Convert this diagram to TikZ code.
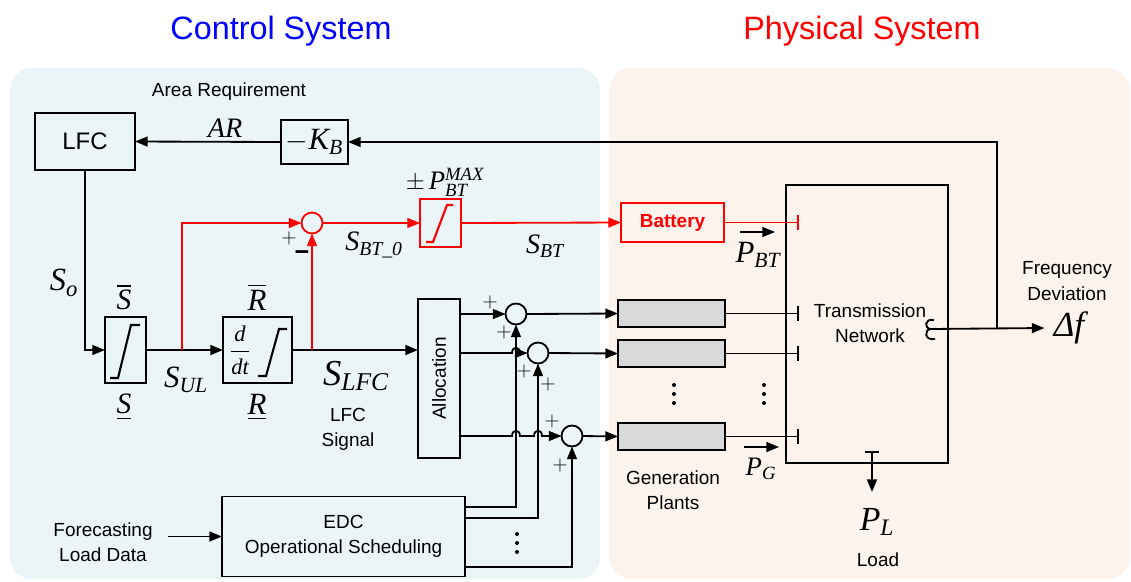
\documentclass[tikz,border=0pt]{standalone}
\usepackage{amsmath}
\usepackage{fontspec}
\setmainfont{Liberation Sans}
\newfontfamily\tms{Liberation Serif}
\usetikzlibrary{arrows.meta,calc,positioning}
\definecolor{ctrlbg}{RGB}{235,245,248}
\definecolor{physbg}{RGB}{253,243,237}
\newcommand{\txt}{\fontsize{13.5}{18}\selectfont}
\newcommand{\lbl}[1]{\fontsize{#1}{#1}\selectfont}
\newcommand{\tv}[1]{\text{\tms\itshape #1}}

\begin{document}
\begin{tikzpicture}[x=0.025cm, y=-0.025cm, line width=1.3pt, >={Triangle[length=9pt,width=7pt]},
		box/.style={draw, inner sep=0pt, outer sep=0pt},
		sumnode/.style={draw, circle, minimum size=0.525cm, inner sep=0pt, outer sep=0pt},
		gennode/.style={draw, fill=gray!30, minimum width=2.675cm, minimum height=0.675cm, inner sep=0pt, outer sep=0pt},
		tobar/.style={-{Bar[width=10pt]}}]
			\useasboundingbox (0,0) rectangle (1131,581);
			\fill[ctrlbg, rounded corners=0.55cm] (10,68) rectangle (600,579);
			\fill[physbg, rounded corners=0.55cm] (609,68) rectangle (1130,579);
			\node[text=blue, font=\lbl{23}] (ctitle) at (281,31) {Control System};
			\node[text=red, font=\lbl{23}] (ptitle) at (862,31) {Physical System};

			\node[box, minimum width=2.5cm, minimum height=1.425cm, font=\lbl{17}] (lfc) at (85,141.5) {LFC};
			\node[box, minimum width=1.675cm, minimum height=1.1cm, font=\lbl{22}] (kb) at (314.5,142) {$-\tv{K}_{\tv{B}}$};
			\node[box, minimum width=1.025cm, minimum height=1.65cm] (lim) at (125.5,350) {};
			\node[box, minimum width=1.725cm, minimum height=1.65cm] (rate) at (257.5,350) {};
			\node[font=\lbl{16}] (ddt) at (240,350) {$\displaystyle\frac{\tv{d}}{\tv{dt}}$};
			\node[sumnode, red] (sumbt) at (312,223) {};
			\node[box, red, minimum width=1.025cm, minimum height=1.2cm] (limbt) at (440.5,223) {};
			\node[box, red, text=red, minimum width=2.575cm, minimum height=0.975cm, font=\txt\bfseries] (bat) at (672.5,222.5) {Battery};
			\node[box, minimum width=4.05cm, minimum height=6.95cm] (net) at (867,324) {};
			\node[align=center, font=\txt] (netlbl) at (870,323.5) {Transmission\\Network};
			\node[box, minimum width=1.05cm, minimum height=3.975cm] (alloc) at (439,378.5) {};
			\node[rotate=90, font=\txt] (alloclbl) at (alloc) {Allocation};
			\node[sumnode] (sum1) at (516,314) {};
			\node[sumnode] (sum2) at (538,353) {};
			\node[sumnode] (sum3) at (572,436) {};
			\node[gennode] (gen1) at (671.5,313.5) {};
			\node[gennode] (gen2) at (671.5,353.5) {};
			\node[gennode] (gen3) at (671.5,436.5) {};
			\node[box, minimum width=6.075cm, minimum height=2cm, align=center, font=\txt] (edc) at (343.5,536.5) {EDC\\Operational Scheduling};

			\draw[line width=1.5pt] ([shift={(-15.5,28)}]lim.center) -- ++(8,0) -- ++(13,-53) -- ++(9,0);
			\draw[line width=1.5pt] ([shift={(0.5,26)}]rate.center) -- ++(8,0) -- ++(13,-47) -- ++(8,0);
			\draw[line width=1.5pt, red] ([shift={(-14.5,19)}]limbt.center) -- ++(7,0) -- ++(14,-37) -- ++(6,0);
			\foreach \dx/\dy in {674/394, 764/394, 517/543}
				\foreach \k in {-9,0,9}
					\fill (\dx,\dy+\k) circle (2);

			\coordinate (nx) at (799,0);
			\coordinate (br1) at (182,350);
			\coordinate (br2) at (312,350);
			\coordinate (fb) at (997,329);
			\coordinate (sq) at (931,329);
			\coordinate (ld) at (872,451);
			\coordinate (e1) at ($(edc.north east)+(0,10.5)$);
			\coordinate (e2) at ($(edc.north east)+(0,21.5)$);
			\coordinate (e3) at ($(edc.north east)+(0,70.5)$);

			\node[font=\txt] (areq) at (229,92) {Area Requirement};
			\node[font=\lbl{20}] (ar) at (225,128) {$\tv{AR}$};
			\node[font=\lbl{23}] (so) at (64,283) {$\tv{S}_{\tv{o}}$};
			\node[font=\lbl{21}] (sbar) at (124,297) {$\overline{\tv{S}}$};
			\node[font=\lbl{21}] (sund) at (124,407) {$\underline{\tv{S}}$};
			\node[font=\lbl{22}] (rbar) at (257,297) {$\overline{\tv{R}}$};
			\node[font=\lbl{22}] (rund) at (257,407) {$\underline{\tv{R}}$};
			\node[font=\lbl{22}] (sul) at (186,380) {$\tv{S}_{\tv{UL}}$};
			\node[font=\lbl{26}] (slfc) at (356,376) {$\tv{S}_{\tv{LFC}}$};
			\node[align=center, font=\txt] (lfcsig) at (348,429) {LFC\\Signal};
			\node[font=\lbl{20}] (sbt0) at (374,245) {$\tv{S}_{\tv{BT\_0}}$};
			\node[font=\lbl{20}] (sbt) at (545,246) {$\tv{S}_{\tv{BT}}$};
			\node[font=\lbl{19}] (pmax) at (445,182) {$\pm\,\tv{P}_{\tv{BT}}^{\tv{MAX}}$};
			\node[font=\lbl{22}] (pbt) at (758,255) {$\tv{P}_{\tv{BT}}$};
			\node[font=\lbl{19}] (pg) at (761,469) {$\tv{P}_{\tv{G}}$};
			\node[font=\lbl{24}] (pl) at (877,522) {$\tv{P}_{\tv{L}}$};
			\node[font=\txt] (load) at (878,560) {Load};
			\node[align=center, font=\txt] (gp) at (673,490) {Generation\\Plants};
			\node[align=center, font=\txt] (fd) at (1067,281) {Frequency\\Deviation};
			\node[font=\lbl{25}, inner sep=6pt] (df) at (1069,328) {\tms\itshape Δf};
			\node[align=center, font=\txt] (fc) at (103,542) {Forecasting\\Load Data};
			\node[font=\lbl{15}] (p0) at (289,238) {$+$};
			\node[font=\lbl{18}\bfseries] (m0) at (302,256) {−};
			\node[font=\lbl{15}] (p1a) at (490,302) {$+$};
			\node[font=\lbl{15}] (p1b) at (504,332) {$+$};
			\node[font=\lbl{15}] (p2a) at (524,371) {$+$};
			\node[font=\lbl{15}] (p2b) at (548,384) {$+$};
			\node[font=\lbl{15}] (p3a) at (552,421) {$+$};
			\node[font=\lbl{15}] (p3b) at (560,465) {$+$};

			\draw (934,320) .. controls (924,318) and (924,329) .. (sq) .. controls (924,329) and (924,341) .. (935,339);
			\draw[->] (sq) -- (df.west);
			\draw[->] (fb) |- (kb.east);
			\draw[->] (kb.west) -- (lfc.east);
			\draw[->] (lfc.south) |- (lim.west);
			\draw[->] (lim.east) -- (rate.west);
			\draw[->] (rate.east) -- (rate.east -| alloc.west);
			\draw[red, ->] (br1) |- (sumbt.west);
			\draw[red, ->] (br2) -- (sumbt.south);
			\draw[red, ->] (sumbt.east) -- (limbt.west);
			\draw[red, ->] (limbt.east) -- (bat.west);
			\draw[red, tobar] (bat.east) -- (bat.east -| nx);
			\draw[->] (alloc.east |- sum1.west) -- (sum1.west);
			\draw[->] (alloc.east |- sum2.west) -- ($(sum1.south |- sum2.west)+(-4,0)$) .. controls +(0,-7) and +(0,-7) .. ($(sum1.south |- sum2.west)+(4,0)$) -- (sum2.west);
			\draw[->] (alloc.east |- sum3.west) -- ($(sum1.south |- sum3.west)+(-4,0)$) .. controls +(0,-7) and +(0,-7) .. ($(sum1.south |- sum3.west)+(4,0)$) -- ($(sum2.south |- sum3.west)+(-4,0)$) .. controls +(0,-7) and +(0,-7) .. ($(sum2.south |- sum3.west)+(4,0)$) -- (sum3.west);
			\draw[->] (sum1.east) -- (gen1.west);
			\draw[->] (sum2.east) -- (gen2.west);
			\draw[->] (sum3.east) -- (gen3.west);
			\draw[tobar] (gen1.east) -- (gen1.east -| nx);
			\draw[tobar] (gen2.east) -- (gen2.east -| nx);
			\draw[tobar] (gen3.east) -- (gen3.east -| nx);
			\draw[->] (e1) -| (sum1.south);
			\draw[->] (e2) -| (sum2.south);
			\draw[->] (e3) -| (sum3.south);
			\draw[->] ($(fc.east |- edc.west)+(10,0)$) -- (edc.west);
			\draw[{Bar[width=10pt]}->] (ld) -- ($(ld)+(0,41)$);
			\draw[->] ($(pbt.center)+(-18,-23)$) -- ($(pbt.center)+(17,-23)$);
			\draw[->] ($(pg.center)+(-17,-22)$) -- ($(pg.center)+(18,-22)$);
\end{tikzpicture}
\end{document}
